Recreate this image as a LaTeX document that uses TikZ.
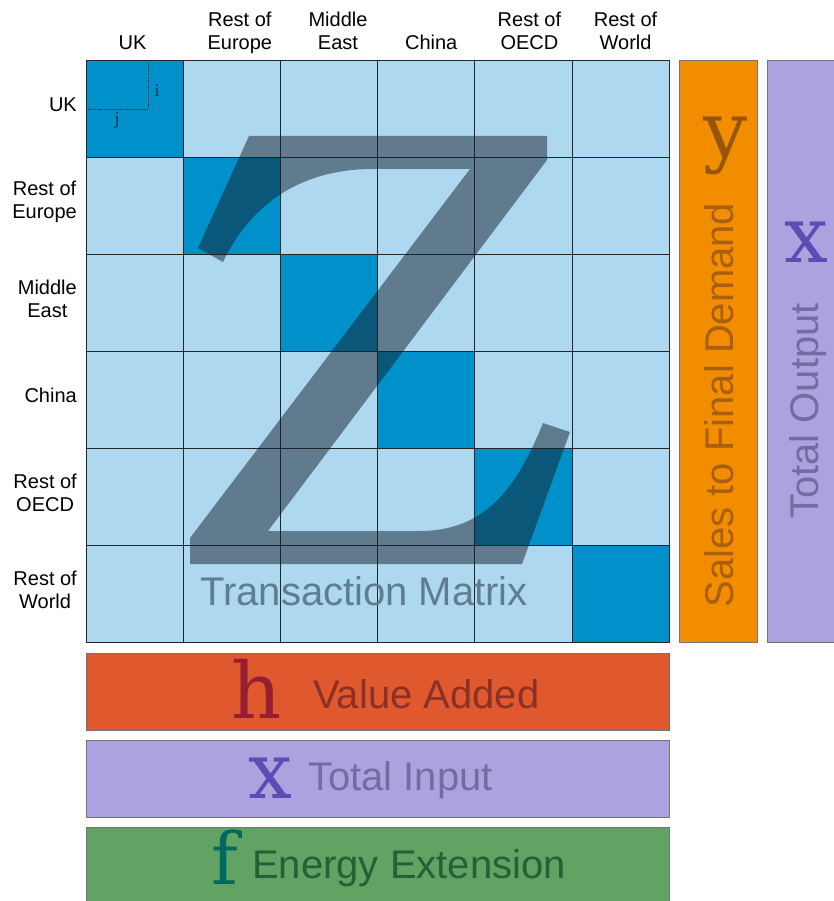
\documentclass[tikz,border=0pt]{standalone}
\usepackage{fontspec}
\setmainfont{Liberation Sans}
\newfontfamily\letterfont{DejaVu Serif}
\newfontfamily\indexfont{Liberation Serif}
\usetikzlibrary{positioning}
\definecolor{cellblue}{RGB}{173,216,239}
\definecolor{diagblue}{RGB}{0,144,202}
\definecolor{zshade}{RGB}{20,32,44}
\definecolor{matrixtext}{RGB}{95,125,145}
\definecolor{orangebar}{RGB}{242,141,0}
\definecolor{saletext}{RGB}{168,95,15}
\definecolor{yletter}{RGB}{150,85,10}
\definecolor{purplebar}{RGB}{173,162,224}
\definecolor{outputtext}{RGB}{115,107,162}
\definecolor{xletter}{RGB}{95,75,180}
\definecolor{redbox}{RGB}{224,89,46}
\definecolor{addedtext}{RGB}{140,48,38}
\definecolor{hletter}{RGB}{150,30,50}
\definecolor{greenbox}{RGB}{96,163,99}
\definecolor{energytext}{RGB}{40,95,55}
\definecolor{fletter}{RGB}{0,105,95}
\definecolor{indexcol}{RGB}{20,50,80}
\tikzset{
  cell/.style={draw=black!85, line width=0.8pt, minimum width=97.2pt, minimum height=97pt, inner sep=0pt, outer sep=0pt},
  band/.style={draw=black!55, line width=0.8pt, inner sep=0pt},
  head/.style={font=\fontsize{20}{23}\selectfont, align=center, inner sep=0pt},
  bandtext/.style={font=\fontsize{40}{40}\selectfont, inner sep=0pt},
  bigletter/.style={font=\letterfont\fontsize{78}{78}\selectfont, inner sep=0pt},
  ijline/.style={indexcol, densely dotted, line width=0.8pt}
}
\begin{document}
\begin{tikzpicture}[x=1pt,y=-1pt]
  \clip (0,0) rectangle (834,901);
  \fill[white] (0,0) rectangle (834,901);
  \foreach \r in {1,...,6}
    \foreach \c in {1,...,6} {
      \ifnum\r=\c \def\cellcol{diagblue}\else\def\cellcol{cellblue}\fi
      \node[cell, fill=\cellcol] (c\r\c) at ({86+97.2*(\c-0.5)}, {60+97*(\r-0.5)}) {};
    }
  \foreach \c/\name/\dx in {1/UK/-2, 2/{Rest of\\Europe}/8, 3/{Middle\\East}/9, 4/China/5, 5/{Rest of\\OECD}/6, 6/{Rest of\\World}/5}
    \node[head, above=3pt of c1\c, xshift=\dx pt] (h\c) {\name\strut};
  \foreach \r/\name in {1/UK, 2/{Rest of\\Europe}, 3/{Middle\\East}, 4/China, 5/{Rest of\\OECD}, 6/{Rest of\\World}}
    \node[head, left=9pt of c\r1, yshift=4pt] (r\r) {\name};
  % i and j inside the first cell
  \coordinate (ij) at (148,109);
  \draw[ijline] (c11.west |- ij) -- (ij) -- (ij |- c11.north);
  \node[font=\indexfont\fontsize{18}{18}\selectfont, text=indexcol, anchor=base] (iidx) at (157,97) {i};
  \node[font=\indexfont\fontsize{18}{18}\selectfont, text=indexcol, anchor=base] (jidx) at (117,125) {j};
  % the big Z
  \fill[zshade, fill opacity=0.5] (249,136) -- (547,136) -- (547,160) -- (268,531) -- (420,531)
    .. controls (490,531) and (520,480) .. (543,423) -- (570,432) -- (522,564) -- (190,564)
    -- (190,538) -- (470,169) -- (373,169) .. controls (300,169) and (250,205) .. (223,262)
    -- (198,248) -- cycle;
  \node[bandtext, text=matrixtext, anchor=base] (zlab) at (364,605) {Transaction Matrix};
  % side bars
  \node[band, fill=orangebar, minimum width=78pt, minimum height=582pt] (demand) at (718,351) {};
  \node[band, fill=purplebar, minimum width=90pt, minimum height=582pt, anchor=west] (output) at (767,351) {};
  \node[bigletter, text=yletter, anchor=base] (ylet) at (726,158) {y};
  \node[bandtext, text=saletext, rotate=90, anchor=base] (salelab) at (733,405) {Sales to Final Demand};
  \node[bigletter, text=xletter, anchor=base] (xout) at (806,262) {x};
  \node[bandtext, text=outputtext, rotate=90, anchor=base] (outlab) at (818,411) {Total Output};
  % bottom bands
  \node[band, fill=redbox, minimum width=583pt, minimum height=77pt] (added) at (377.5,691.5) {};
  \node[band, fill=purplebar, minimum width=583pt, minimum height=77pt] (input) at (377.5,778.5) {};
  \node[band, fill=greenbox, minimum width=583pt, minimum height=86pt] (energy) at (377.5,870) {};
  \node[bigletter, text=hletter, anchor=base] (hlet) at (257,718) {h};
  \node[bandtext, text=addedtext, anchor=base west] (addlab) at (313,708) {Value Added};
  \node[bigletter, text=xletter, anchor=base] (xin) at (270,798) {x};
  \node[bandtext, text=outputtext, anchor=base west] (inlab) at (308,790) {Total Input};
  \node[bigletter, font=\letterfont\fontsize{72}{72}\selectfont, text=fletter, anchor=base] (flet) at (225,884) {f};
  \node[bandtext, text=energytext, anchor=base west] (enlab) at (252,878) {Energy Extension};
\end{tikzpicture}
\end{document}
